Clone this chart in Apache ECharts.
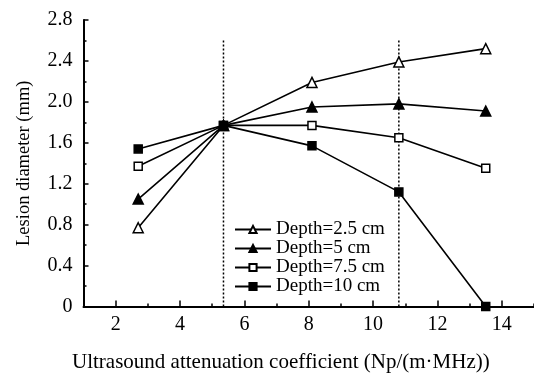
<!DOCTYPE html>
<html>
<head>
<meta charset="utf-8">
<script src="https://cdn.jsdelivr.net/npm/echarts@6/dist/echarts.min.js"></script>
<style>
  html, body { margin: 0; padding: 0; background: #fff; }
  #chart { width: 534px; height: 374px; }
</style>
</head>
<body>
<div id="chart"></div>
<script>
// Attenuation coefficients (Np/(m·MHz)) at which lesions were measured
const attenuation = [2.7, 5.35, 8.1, 10.8, 13.5];

// Lesion diameter (mm) for each focal depth
const depth25 = [0.77, 1.77, 2.19, 2.39, 2.52];
const depth5 = [1.05, 1.77, 1.95, 1.98, 1.91];
const depth75 = [1.37, 1.77, 1.77, 1.65, 1.35];
const depth10 = [1.54, 1.77, 1.57, 1.12, 0.0];

const seriesNames = ['Depth=2.5 cm', 'Depth=5 cm', 'Depth=7.5 cm', 'Depth=10 cm'];

// Tick positions on the attenuation axis
const xMajorTicks = [2, 4, 6, 8, 10, 12, 14];
const xMinorTicks = [3, 5, 7, 9, 11, 13, 15];

// Reference attenuation values marked by dotted verticals
const refLines = [5.35, 10.8];
const refTop = 2.6;

const FONT = '"Liberation Serif", "Times New Roman", serif';

function pairs(ys) {
  return attenuation.map((x, i) => [x, ys[i]]);
}

function lineSeries(name, ys, symbol, filled, size) {
  return {
    name: name,
    type: 'line',
    data: pairs(ys),
    symbol: symbol,
    symbolSize: size,
    showSymbol: true,
    lineStyle: { color: '#000', width: 1.6 },
    itemStyle: {
      color: filled ? '#000' : '#fff',
      borderColor: '#000',
      borderWidth: 1.5
    },
    emphasis: { disabled: true },
    z: 3
  };
}

const series = [
  lineSeries(seriesNames[0], depth25, 'triangle', false, 10),
  lineSeries(seriesNames[1], depth5, 'triangle', true, 10),
  lineSeries(seriesNames[2], depth75, 'rect', false, 8),
  lineSeries(seriesNames[3], depth10, 'rect', true, 8)
];

refLines.forEach((x) => {
  series.push({
    type: 'line',
    data: [[x, 0], [x, refTop]],
    symbol: 'none',
    lineStyle: { color: '#000', width: 1.5, type: [2, 2] },
    silent: true,
    z: 2
  });
});

const chart = echarts.init(document.getElementById('chart'), null, { renderer: 'canvas' });
chart.setOption({
  animation: false,
  backgroundColor: '#fff',
  textStyle: { fontFamily: FONT, color: '#000' },
  grid: { left: 83.5, top: 20, right: 0, bottom: 67.5, containLabel: false },
  legend: {
    data: seriesNames,
    orient: 'vertical',
    left: 234,
    top: 220,
    padding: 0,
    itemWidth: 36,
    itemHeight: 9,
    itemGap: 0,
    textStyle: { fontFamily: FONT, fontSize: 19, lineHeight: 19, color: '#000' },
    selectedMode: false
  },
  xAxis: [{
    type: 'value',
    min: 1,
    max: 15,
    axisLine: { lineStyle: { color: '#000', width: 2 } },
    axisTick: {
      inside: true, length: 6, customValues: xMajorTicks,
      lineStyle: { color: '#000', width: 1.5 }
    },
    splitLine: { show: false },
    axisLabel: {
      fontFamily: FONT, fontSize: 20, color: '#000', margin: 8,
      customValues: xMajorTicks
    }
  }, {
    type: 'value',
    min: 1,
    max: 15,
    position: 'bottom',
    axisLine: { show: false },
    axisTick: {
      inside: true, length: 3, customValues: xMinorTicks,
      lineStyle: { color: '#000', width: 1.5 }
    },
    splitLine: { show: false },
    axisLabel: { show: false }
  }],
  yAxis: {
    type: 'value',
    min: 0,
    max: 2.8,
    interval: 0.4,
    name: 'Lesion diameter (mm)',
    nameLocation: 'middle',
    nameGap: 50,
    nameTextStyle: { fontFamily: FONT, fontSize: 18.5, color: '#000' },
    axisLine: { show: true, lineStyle: { color: '#000', width: 2 } },
    axisTick: { show: true, inside: true, length: 5, lineStyle: { color: '#000', width: 1.5 } },
    minorTick: { show: true, splitNumber: 2, length: 3, lineStyle: { color: '#000', width: 1.5 } },
    splitLine: { show: false },
    axisLabel: {
      fontFamily: FONT, fontSize: 20, color: '#000', margin: 11,
      formatter: (v) => (Math.abs(v) < 1e-9 ? '0' : v.toFixed(1))
    }
  },
  graphic: [{
    type: 'text',
    left: 72,
    top: 352,
    style: {
      text: 'Ultrasound attenuation coefficient (Np/(m\u00B7MHz))',
      font: '21px ' + FONT,
      fill: '#000'
    }
  }],
  series: series
});
</script>
</body>
</html>
